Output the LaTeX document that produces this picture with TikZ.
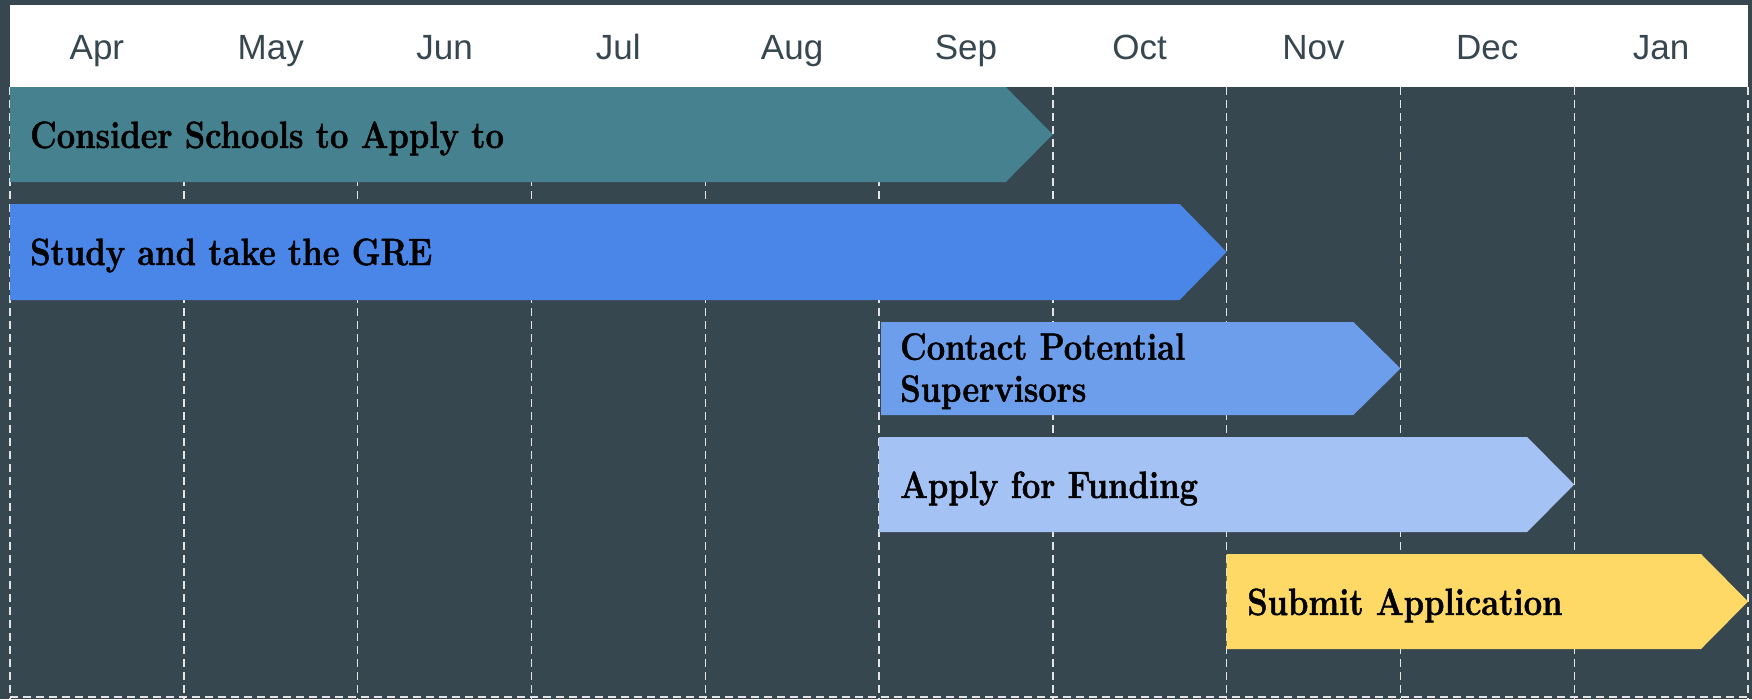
\documentclass[tikz,border=0pt]{standalone}
\usepackage{fontspec}
\newfontfamily\monthfont{Liberation Sans}
\newfontfamily\barfont[FakeStretch=0.86,FakeBold=1.2]{Latin Modern Roman}
\definecolor{bgdark}{HTML}{37474F}
\definecolor{teal1}{HTML}{45818E}
\definecolor{blue1}{HTML}{4A86E8}
\definecolor{blue2}{HTML}{6D9EEB}
\definecolor{blue3}{HTML}{A4C2F4}
\definecolor{yellow1}{HTML}{FFD966}
\definecolor{gridc}{HTML}{E4E4E4}
\tikzset{
  gridline/.style={draw=gridc, line width=1.4pt, dash pattern=on 8pt off 5pt},
  monthlabel/.style={font=\monthfont\fontsize{35}{40}\selectfont, text=bgdark, anchor=base, inner sep=0pt},
  barlabel/.style={font=\barfont\bfseries\fontsize{38}{42}\selectfont, text=black, inner sep=0pt, align=left},
}
\begin{document}
\begin{tikzpicture}[x=1pt,y=-1pt]
\useasboundingbox (0,0) rectangle (1752,699);
\fill[bgdark] (0,0) rectangle (1752,699);
% header
\fill[white] (10,5) rectangle (1748,87);
% grid
\foreach \i in {0,...,10}{
  \coordinate (gt\i) at ({10+173.8*\i},87);
  \coordinate (gb\i) at ({10+173.8*\i},699);
  \draw[gridline] (gt\i) -- (gb\i);
}
\coordinate (bl) at (10,697);
\coordinate (br) at (1748,697);
\draw[gridline] (bl) -- (br);
% months
\foreach \m [count=\i from 0] in {Apr,May,Jun,Jul,Aug,Sep,Oct,Nov,Dec,Jan}{
  \node[monthlabel] (m\i) at ({10+173.8*(\i+0.5)},59) {\m};
}
% bars: x0, tip, top, bottom
\newcommand{\gbar}[5]{%
  \fill[#5] (#1,#3) -- ({#2-47},#3) -- (#2,{(#3+#4)/2}) -- ({#2-47},#4) -- (#1,#4) -- cycle;}
\gbar{10}{1052.8}{87}{182}{teal1}
\gbar{10}{1226.6}{204}{300}{blue1}
\gbar{881}{1400.4}{322}{415}{blue2}
\gbar{879}{1574.2}{437}{532}{blue3}
\gbar{1226.6}{1748}{554}{649}{yellow1}
\node[barlabel, anchor=base west] (t1) at (30,148) {Consider Schools to Apply to};
\node[barlabel, anchor=base west] (t2) at (30,265) {Study and take the GRE};
\node[barlabel, anchor=north west] (t3) at (900,333) {Contact Potential\\Supervisors};
\node[barlabel, anchor=base west] (t4) at (900,498) {Apply for Funding};
\node[barlabel, anchor=base west] (t5) at (1247,615) {Submit Application};
\end{tikzpicture}
\end{document}
